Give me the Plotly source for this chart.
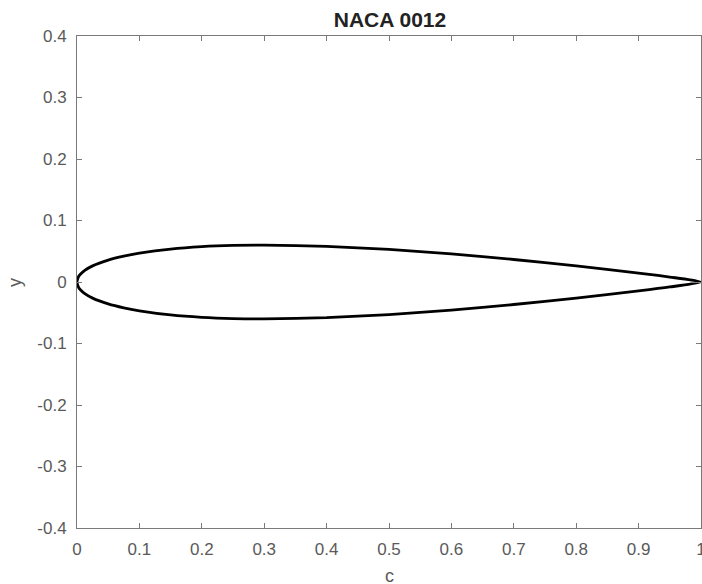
import plotly.graph_objects as go

# NACA 0012 half-thickness (symmetric section)
x_c = [0.0, 0.0025, 0.005, 0.0125, 0.025, 0.05, 0.075, 0.1, 0.15, 0.2, 0.25,
       0.3, 0.4, 0.5, 0.6, 0.7, 0.8, 0.9, 0.95, 1.0]
y_upper = [0.0, 0.0087, 0.0122, 0.0189, 0.0262, 0.0356, 0.0420, 0.0468, 0.0535,
           0.0574, 0.0594, 0.0600, 0.0580, 0.0529, 0.0456, 0.0366, 0.0262,
           0.0145, 0.0081, 0.0]
y_lower = [-v for v in y_upper]

x_ticks = [0, 0.1, 0.2, 0.3, 0.4, 0.5, 0.6, 0.7, 0.8, 0.9, 1]
x_tick_text = ["0", "0.1", "0.2", "0.3", "0.4", "0.5", "0.6", "0.7", "0.8", "0.9", "1"]
y_ticks = [-0.4, -0.3, -0.2, -0.1, 0, 0.1, 0.2, 0.3, 0.4]
y_tick_text = ["-0.4", "-0.3", "-0.2", "-0.1", "0", "0.1", "0.2", "0.3", "0.4"]

xs = list(reversed(x_c)) + x_c[1:]
ys = list(reversed(y_upper)) + y_lower[1:]

FONT = "Liberation Sans, Arial, Helvetica"

fig = go.Figure()
fig.add_trace(go.Scatter(x=xs, y=ys, mode="lines",
                         line=dict(color="black", width=2.8, shape="spline", smoothing=0.6),
                         showlegend=False, hoverinfo="skip"))

axis_common = dict(showgrid=False, zeroline=False, showline=True, linecolor="#7a7a7a",
                   linewidth=1, mirror="ticks", ticks="inside", ticklen=5,
                   tickcolor="#7a7a7a", tickwidth=1, automargin=False,
                   ticklabelstandoff=6, ticklabeloverflow="allow",
                   tickfont=dict(family=FONT, size=17, color="#5a5a5a"))

fig.update_xaxes(range=[0, 1], tickvals=x_ticks, ticktext=x_tick_text, **axis_common)
fig.update_yaxes(range=[-0.4, 0.4], tickvals=y_ticks, ticktext=y_tick_text, **axis_common)

fig.update_layout(
    width=702, height=584,
    margin=dict(l=77, r=1, t=36, b=56, autoexpand=False),
    plot_bgcolor="white", paper_bgcolor="white",
    title=dict(text="<b>NACA 0012</b>", x=390/702, xanchor="center",
               y=1 - 19.5/584, yanchor="middle", yref="container",
               font=dict(family=FONT, size=21, color="#222222")),
    annotations=[
        dict(text="c", xref="paper", yref="paper", x=0.5, y=-0.0976, showarrow=False,
             xanchor="center", yanchor="middle",
             font=dict(family=FONT, size=18, color="#5a5a5a")),
        dict(text="y", xref="paper", yref="paper", x=-0.0994, y=0.5, showarrow=False,
             textangle=-90, xanchor="center", yanchor="middle",
             font=dict(family=FONT, size=18, color="#5a5a5a")),
    ],
)

fig.write_html("out.html", config={"displayModeBar": False},
               post_script="document.body.style.margin='0';")
